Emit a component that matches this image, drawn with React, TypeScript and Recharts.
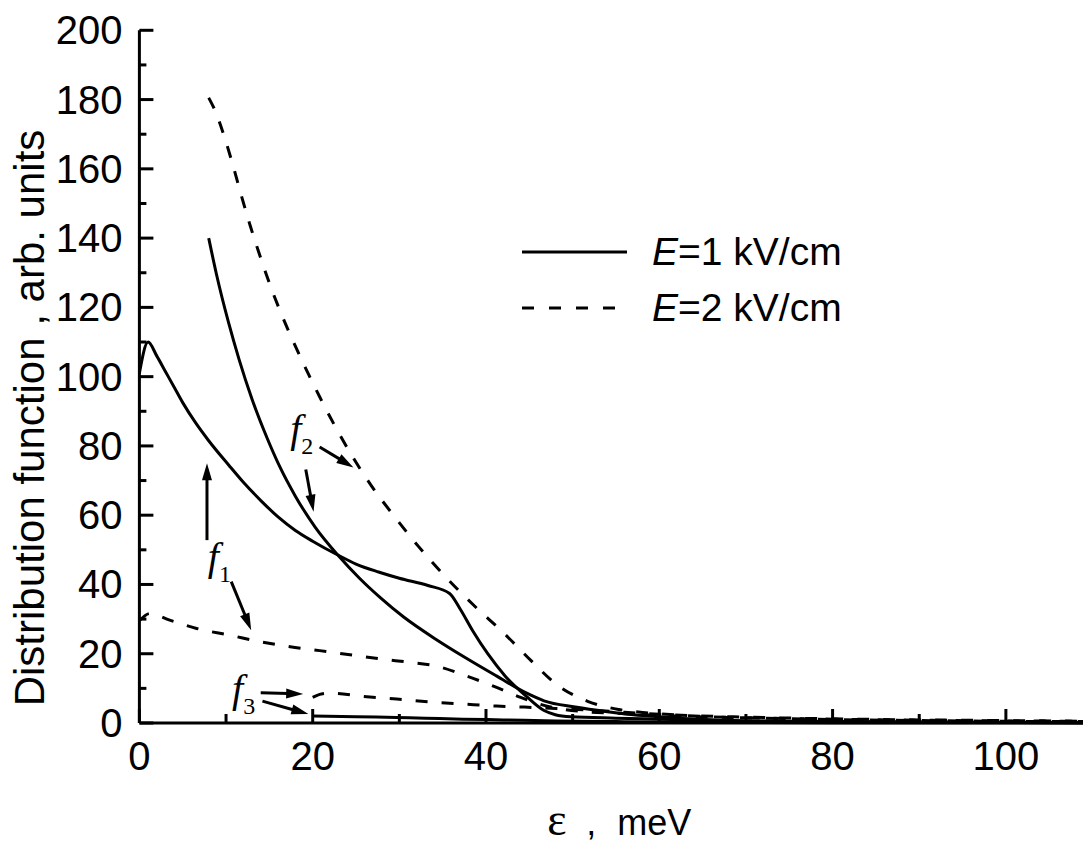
import { Legend, Line, LineChart, ReferenceDot, ReferenceLine, XAxis, YAxis } from "recharts";

// E = 1 kV/cm (solid)
const f1SolidX = [0, 1, 2, 3, 4, 5, 6.4, 8, 10.3, 12, 14.1, 16, 18, 20, 22.9, 25, 27.6, 30, 33.3, 35.8, 37, 38.5, 40.2, 42.2, 44.7, 46.7, 48, 49.8, 55, 60, 70, 80, 100, 110];
const f1SolidY = [101, 110, 106, 101.5, 97, 92.5, 87, 81.5, 74.5, 69.5, 64, 59.5, 55.6, 52.5, 48.5, 45.9, 43.6, 41.8, 39.7, 37.4, 33, 26.5, 20, 13.6, 7.6, 3.6, 2.4, 1.8, 1.4, 1.1, 0.6, 0.4, 0.2, 0.1];

const f2SolidX = [8, 8.9, 10.3, 11.5, 13, 14.7, 16.2, 18, 20.3, 22.9, 25.4, 27.8, 30.5, 34.2, 37.4, 41.2, 44.7, 46.7, 50.3, 53.8, 57, 60, 65, 70, 80, 100, 110];
const f2SolidY = [140, 129.5, 115.5, 105, 93.5, 82.5, 74, 65.5, 56.5, 48.5, 41.8, 36.2, 30.6, 24.2, 19.2, 13.6, 8.6, 6.4, 4.6, 3.3, 2.4, 1.8, 1, 0.6, 0.3, 0.15, 0.1];

const f3SolidX = [20, 25, 29.7, 33, 37.3, 42, 48, 55, 60, 70, 80, 100, 110];
const f3SolidY = [2, 1.8, 1.6, 1.4, 1.1, 0.9, 0.6, 0.4, 0.3, 0.15, 0.1, 0.05, 0.03];

// E = 2 kV/cm (dashed)
const f1DashX = [0, 1.2, 3.5, 6.6, 10.5, 13.9, 17.4, 20.8, 24.3, 27.8, 31.6, 34.3, 37.5, 41, 44, 47.3, 51.3, 55.3, 60, 70, 80, 90, 100, 110];
const f1DashY = [29.5, 31.6, 29.7, 27.3, 25.3, 23.5, 22, 20.9, 19.7, 18.5, 17.4, 16.4, 13.8, 10.5, 7.4, 4.7, 3.3, 2.8, 2.2, 1.5, 1.1, 0.8, 0.6, 0.5];

const f2DashX = [8, 8.7, 9.9, 10.8, 11.8, 12.8, 13.7, 15.1, 16.4, 18, 19.5, 20.8, 22.6, 24.5, 26.8, 29.5, 32.2, 35.3, 38.5, 42.2, 45.2, 48.2, 51.8, 55.3, 58.8, 62, 65, 70, 80, 90, 100, 110];
const f2DashY = [180.5, 177, 168.5, 161, 152, 143.5, 136.5, 126.3, 118, 108.8, 100.8, 94.2, 85.6, 77.3, 68.4, 59.4, 51, 42.3, 34.2, 25.6, 18, 11, 6.2, 3.9, 2.9, 2.3, 1.9, 1.5, 1, 0.7, 0.5, 0.4];

const f3DashX = [20, 21, 22, 25.8, 29.7, 33.5, 37.3, 41.2, 44.3, 48, 52, 56, 60, 70, 80, 90, 100, 110];
const f3DashY = [7.4, 8.4, 8.6, 7.7, 6.9, 6.1, 5.5, 4.9, 4.6, 4.2, 3.7, 3.1, 2.5, 1.7, 1.2, 0.9, 0.7, 0.5];

const xTicks = [0, 10, 20, 30, 40, 50, 60, 70, 80, 90, 100];
const yTicks = [0, 10, 20, 30, 40, 50, 60, 70, 80, 90, 100, 110, 120, 130, 140, 150, 160, 170, 180, 190, 200];

// annotation labels and their arrows, in data units
const labels = [
  { x: 7.9, y: 44.1, sub: "1" },
  { x: 17.4, y: 81, sub: "2" },
  { x: 10.7, y: 6.1, sub: "3" },
];
const arrows = [
  { from: [7.8, 52.8], to: [7.8, 75] },
  { from: [10.6, 40.8], to: [12.9, 26.8] },
  { from: [20.8, 79.7], to: [24.7, 73.8] },
  { from: [19.2, 73.2], to: [20.1, 61] },
  { from: [14.0, 8.7], to: [18.9, 8.4] },
  { from: [14.2, 6.3], to: [19.5, 2.6] },
];

const SANS = "'Liberation Sans', Arial, sans-serif";
const SERIF = "'Liberation Serif', 'Times New Roman', serif";
const DASH = "12 14";

function zip(xs: number[], ys: number[]) {
  return xs.map((x, i) => ({ x, y: ys[i] }));
}

function XTick(props: any) {
  const { x, y, payload } = props;
  const major = payload.value % 20 === 0;
  return (
    <g>
      <line x1={x} x2={x} y1={y} y2={y - (major ? 14 : 9)} stroke="#000" strokeWidth={3} />
      {major && (
        <text x={x} y={y + 47} textAnchor="middle" fontFamily={SANS} fontSize={40} fill="#000">
          {payload.value}
        </text>
      )}
    </g>
  );
}

function YTick(props: any) {
  const { x, y, payload } = props;
  const major = payload.value % 20 === 0;
  return (
    <g>
      <line x1={x} x2={x + (major ? 14 : 7)} y1={y} y2={y} stroke="#000" strokeWidth={3} />
      {major && (
        <text x={x - 17} y={y + 14} textAnchor="end" fontFamily={SANS} fontSize={40} fill="#000">
          {payload.value}
        </text>
      )}
    </g>
  );
}

function Arrow(props: any) {
  const { x1, y1, x2, y2 } = props;
  const dx = x2 - x1;
  const dy = y2 - y1;
  const len = Math.hypot(dx, dy) || 1;
  const ux = dx / len;
  const uy = dy / len;
  const hl = 17;
  const hw = 5;
  const bx = x2 - ux * hl;
  const by = y2 - uy * hl;
  const pts = `${x2},${y2} ${bx - uy * hw},${by + ux * hw} ${bx + uy * hw},${by - ux * hw}`;
  return (
    <g>
      <line x1={x1} y1={y1} x2={bx + ux * 2} y2={by + uy * 2} stroke="#000" strokeWidth={3} />
      <polygon points={pts} fill="#000" />
    </g>
  );
}

function FLabel(sub: string) {
  return (props: any) => (
    <text x={props.cx} y={props.cy} fontFamily={SERIF} fontSize={40} fontStyle="italic" fill="#000">
      f
      <tspan fontStyle="normal" fontSize={24} dy={12}>
        {sub}
      </tspan>
    </text>
  );
}

function LegendBox() {
  return (
    <svg width={420} height={120}>
      <line x1={14} x2={119} y1={24} y2={24} stroke="#000" strokeWidth={3} />
      <text x={144} y={37} fontFamily={SANS} fontSize={39} fill="#000">
        <tspan fontStyle="italic">E</tspan>=1 kV/cm
      </text>
      <line x1={14} x2={107} y1={80} y2={80} stroke="#000" strokeWidth={3} strokeDasharray="12 15" />
      <text x={144} y={93} fontFamily={SANS} fontSize={39} fill="#000">
        <tspan fontStyle="italic">E</tspan>=2 kV/cm
      </text>
    </svg>
  );
}

export default function App() {
  const series = [
    { key: "f1s", data: zip(f1SolidX, f1SolidY), dash: undefined },
    { key: "f2s", data: zip(f2SolidX, f2SolidY), dash: undefined },
    { key: "f3s", data: zip(f3SolidX, f3SolidY), dash: undefined },
    { key: "f1d", data: zip(f1DashX, f1DashY), dash: DASH },
    { key: "f2d", data: zip(f2DashX, f2DashY), dash: DASH },
    { key: "f3d", data: zip(f3DashX, f3DashY), dash: DASH },
  ];
  return (
    <div style={{ position: "absolute", left: 0, top: 0, width: 1083, height: 846 }}>
      <LineChart width={1083} height={846} margin={{ top: 30.3, right: 0, left: 0, bottom: 0 }}>
        <XAxis
          dataKey="x"
          type="number"
          domain={[0, 108.9]}
          allowDataOverflow
          ticks={xTicks}
          interval={0}
          height={123}
          tickSize={0}
          tickMargin={0}
          tickLine={false}
          tick={XTick}
          axisLine={{ stroke: "#000", strokeWidth: 3 }}
          label={(p: any) => {
            const vb = p.viewBox;
            const x0 = vb.x + vb.width / 2 - 64;
            const base = vb.y + 112;
            return (
              <text y={base} fill="#000">
                <tspan x={x0} fontFamily={SERIF} fontSize={46}>ε</tspan>
                <tspan x={x0 + 39} fontFamily={SANS} fontSize={36}>,</tspan>
                <tspan x={x0 + 70} fontFamily={SANS} fontSize={36}>meV</tspan>
              </text>
            );
          }}
        />
        <YAxis
          type="number"
          domain={[0, 200]}
          ticks={yTicks}
          interval={0}
          width={139.4}
          tickSize={0}
          tickMargin={0}
          tickLine={false}
          tick={YTick}
          axisLine={{ stroke: "#000", strokeWidth: 3 }}
          label={() => (
            <text
              x={44}
              y={418}
              transform="rotate(-90, 44, 418)"
              textAnchor="middle"
              fontFamily={SANS}
              fontSize={42}
              fill="#000"
            >
              Distribution function , arb. units
            </text>
          )}
        />
        <Legend
          layout="horizontal"
          verticalAlign="middle"
          align="center"
          content={() => <LegendBox />}
          wrapperStyle={{ left: 508, top: 228, width: 420, height: 120 }}
        />
        {series.map((s) => (
          <Line
            key={s.key}
            data={s.data}
            dataKey="y"
            type="monotone"
            stroke="#000"
            strokeWidth={3}
            strokeDasharray={s.dash}
            dot={false}
            activeDot={false}
            isAnimationActive={false}
            legendType="none"
          />
        ))}
        {arrows.map((a, i) => (
          <ReferenceLine
            key={`a${i}`}
            segment={[
              { x: a.from[0], y: a.from[1] },
              { x: a.to[0], y: a.to[1] },
            ]}
            shape={Arrow}
            ifOverflow="visible"
          />
        ))}
        {labels.map((l) => (
          <ReferenceDot key={`l${l.sub}`} x={l.x} y={l.y} r={0} shape={FLabel(l.sub)} ifOverflow="visible" />
        ))}
      </LineChart>
    </div>
  );
}
